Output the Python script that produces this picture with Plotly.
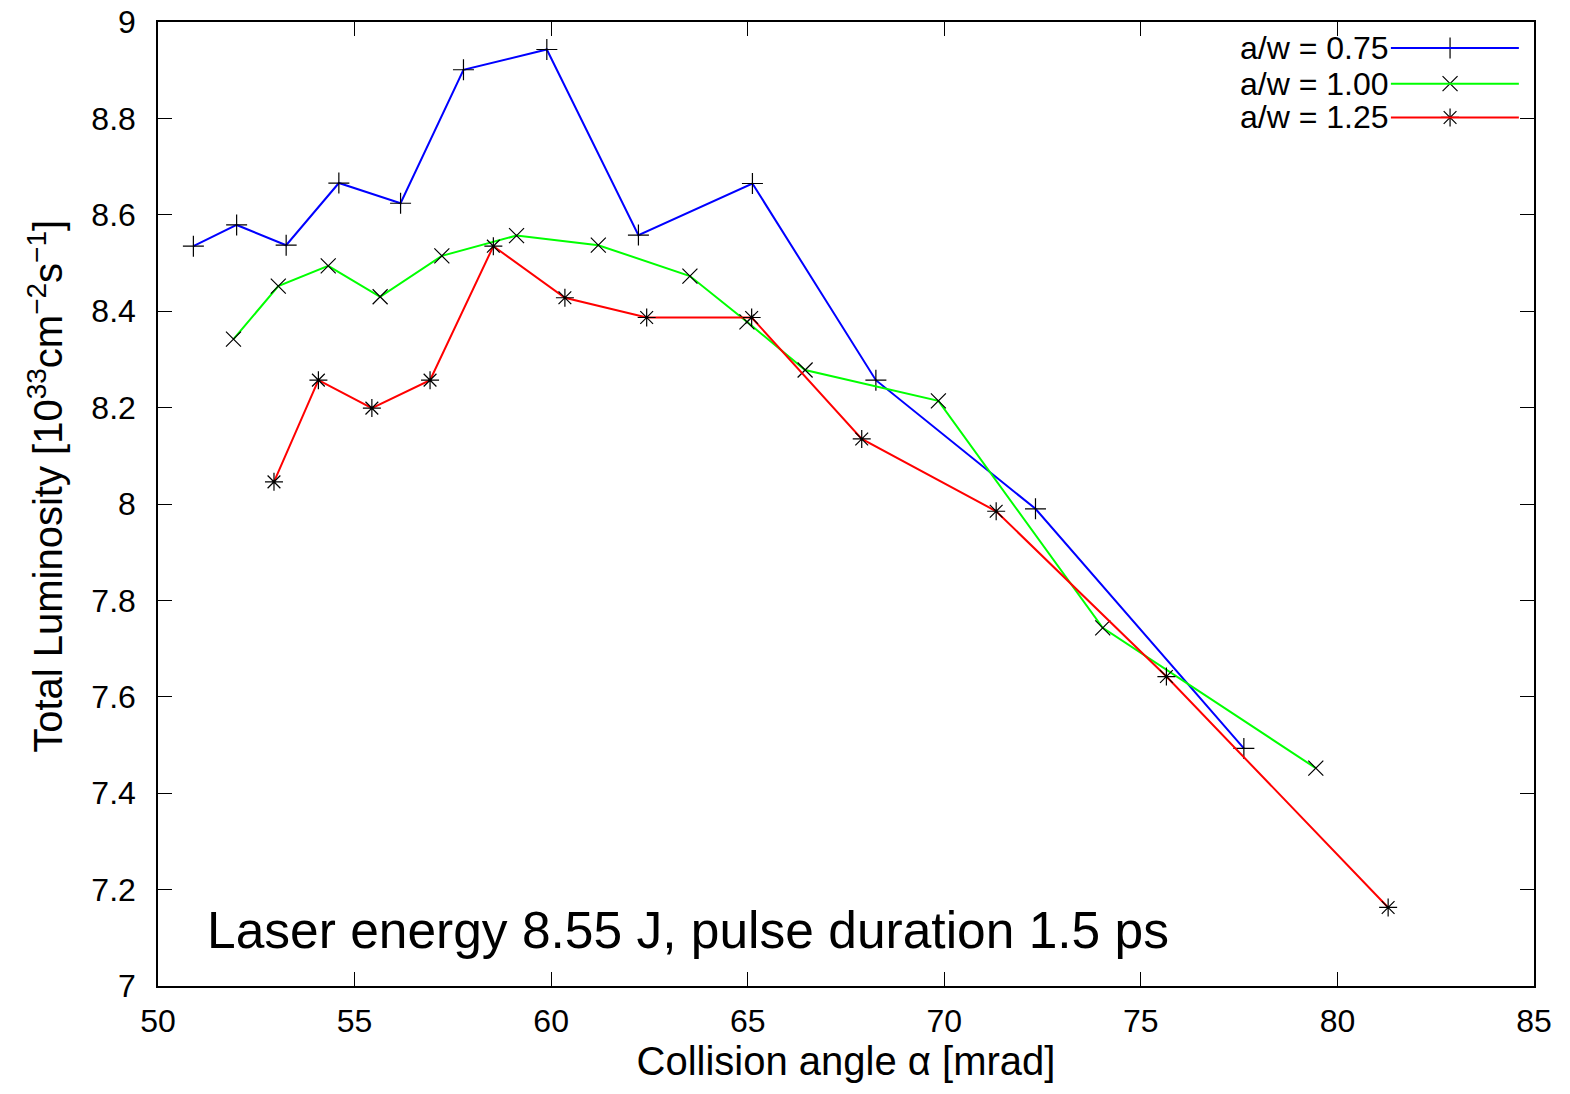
import plotly.graph_objects as go

# a/w = 0.75
x075 = [50.90, 52.00, 53.26, 54.60, 56.17, 57.77, 59.89, 62.22, 65.12, 68.26, 72.32, 77.62]
y075 = [8.535, 8.579, 8.537, 8.666, 8.624, 8.901, 8.943, 8.558, 8.665, 8.257, 7.990, 7.493]
# a/w = 1.00
x100 = [51.92, 53.06, 54.33, 55.65, 57.22, 59.12, 61.20, 63.53, 64.98, 66.46, 69.85, 74.03, 79.45]
y100 = [8.342, 8.452, 8.494, 8.430, 8.515, 8.557, 8.537, 8.473, 8.378, 8.278, 8.214, 7.743, 7.452]
# a/w = 1.25
x125 = [52.95, 54.08, 55.44, 56.92, 58.53, 60.35, 62.43, 65.10, 67.90, 71.32, 75.65, 81.29]
y125 = [8.046, 8.257, 8.199, 8.257, 8.535, 8.428, 8.387, 8.387, 8.135, 7.985, 7.642, 7.163]

names = ["a/w = 0.75", "a/w = 1.00", "a/w = 1.25"]
colors = ["#0000ff", "#00ff00", "#ff0000"]
symbols = ["cross-thin", "x-thin", "asterisk"]
xs = [x075, x100, x125]
ys = [y075, y100, y125]

x_ticks = [50, 55, 60, 65, 70, 75, 80, 85]
y_ticks = [7, 7.2, 7.4, 7.6, 7.8, 8, 8.2, 8.4, 8.6, 8.8, 9]
y_tick_text = ["7", "7.2", "7.4", "7.6", "7.8", "8", "8.2", "8.4", "8.6", "8.8", "9"]

FONT = "Liberation Sans, Arial, sans-serif"

fig = go.Figure()
for x, y, n, c, s in zip(xs, ys, names, colors, symbols):
    fig.add_trace(go.Scatter(
        x=x, y=y, name=n, mode="lines+markers",
        line=dict(color=c, width=2),
        marker=dict(symbol=s, size=15, color="black",
                    line=dict(color="black", width=1.2)),
        showlegend=False,
    ))

# custom gnuplot-style legend (text left of sample)
leg_y = [0.973, 0.936, 0.901]
for n, c, s, ly in zip(names, colors, symbols, leg_y):
    fig.add_shape(type="line", xref="paper", yref="paper",
                  x0=0.896, x1=0.989, y0=ly, y1=ly,
                  line=dict(color=c, width=2))
    fig.add_annotation(x=0.896, y=ly, xref="paper", yref="paper",
                       text=n, showarrow=False, xanchor="right", yanchor="middle",
                       font=dict(family=FONT, size=32, color="black"))
    fig.add_trace(go.Scatter(
        x=[0.939], y=[ly], xaxis="x2", yaxis="y2", mode="markers",
        marker=dict(symbol=s, size=15, color="black",
                    line=dict(color="black", width=1.2)),
        showlegend=False, hoverinfo="skip"))

fig.add_annotation(x=0.034, y=0.058, xref="paper", yref="paper",
                   text="Laser energy 8.55 J, pulse duration 1.5 ps",
                   showarrow=False, xanchor="left", yanchor="middle",
                   font=dict(family=FONT, size=51.5, color="black"))

# y-axis title placed as rotated annotation (gnuplot centres it slightly higher)
fig.add_annotation(x=-0.082, y=0.518, xref="paper", yref="paper",
                   text="Total Luminosity [10<sup>33</sup>cm<sup>−2</sup>s<sup>−1</sup>]",
                   textangle=-90, showarrow=False, xanchor="center", yanchor="middle",
                   font=dict(family=FONT, size=40, color="black"))

fig.update_layout(
    width=1570, height=1094,
    margin=dict(l=158, r=36, t=22, b=108),
    paper_bgcolor="white", plot_bgcolor="white",
    font=dict(family=FONT, color="black", size=32),
    xaxis=dict(range=[50, 85], tickvals=x_ticks, ticks="inside", ticklen=14,
               tickwidth=1, tickcolor="black", showline=True, linecolor="black",
               linewidth=1.5, mirror="ticks", showgrid=False, zeroline=False,
               ticklabelstandoff=6, ticklabeloverflow="allow", automargin=False,
               tickfont=dict(family=FONT, size=32),
               title=dict(text="Collision angle α [mrad]", standoff=8,
                          font=dict(family=FONT, size=40))),
    yaxis=dict(range=[7, 9.0001], tickvals=y_ticks, ticktext=y_tick_text,
               ticks="inside", ticklen=14,
               tickwidth=1, tickcolor="black", showline=True, linecolor="black",
               linewidth=1.5, mirror="ticks", showgrid=False, zeroline=False,
               ticklabelstandoff=14, ticklabeloverflow="allow", automargin=False,
               tickfont=dict(family=FONT, size=32)),
    xaxis2=dict(range=[0, 1], domain=[0, 1], overlaying="x", visible=False),
    yaxis2=dict(range=[0, 1], domain=[0, 1], overlaying="y", visible=False),
)

fig.write_html("out.html",
               config={"displayModeBar": False},
               post_script="document.body.style.margin='0';document.body.style.overflow='hidden';")
